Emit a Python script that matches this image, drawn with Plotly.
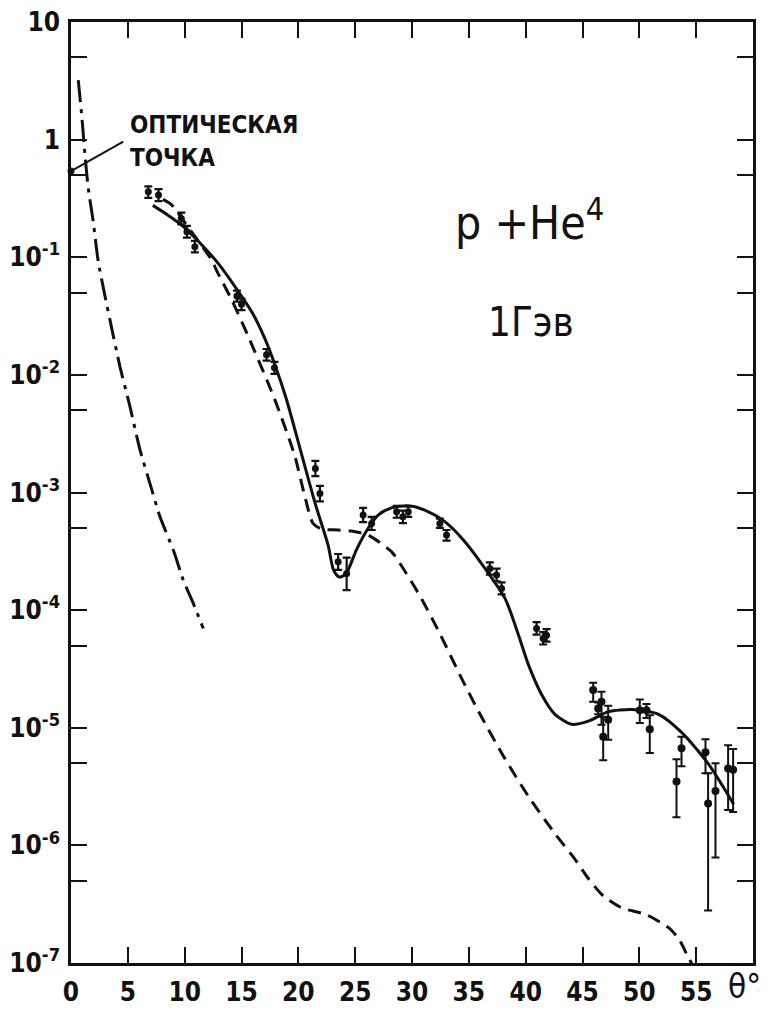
import plotly.graph_objects as go

# ---------------- data ----------------
# solid curve (theory, full)
solid_theta = [7.2, 8.5, 9.84, 11.16, 12.93, 14.98, 16.0, 17.0, 18.0, 18.94, 20.26, 21.49,
               22.62, 23.1, 23.6, 24.2, 25.1, 26.1, 27.02, 28.19, 29.66, 31.13, 32.89, 34.65,
               36.41, 38.18, 39.36, 40.24, 41.41, 42.58, 44.05, 45.52, 47.29, 49.34, 51.69,
               53.74, 56.1, 58.3]
solid_sigma = [0.276, 0.229, 0.184, 0.138, 0.0891, 0.047, 0.0331, 0.0209, 0.01175, 6.27e-3,
               2.16e-3, 8.02e-4, 3.57e-4, 2.19e-4, 1.91e-4, 2.04e-4, 3.24e-4, 4.90e-4,
               6.43e-4, 7.41e-4, 7.71e-4, 7.08e-4, 5.65e-4, 3.82e-4, 2.27e-4, 1.26e-4,
               6.18e-5, 3.44e-5, 1.91e-5, 1.30e-5, 1.07e-5, 1.14e-5, 1.37e-5, 1.43e-5,
               1.30e-5, 9.08e-6, 4.89e-6, 2.24e-6]

# dashed curve
dashed_theta = [8.08, 8.81, 10.5, 12.33, 12.9, 14.1, 15.57, 17.9, 19.67, 20.55, 21.29, 22.03,
                23.5, 24.67, 26.14, 28.19, 28.94, 30.7, 32.45, 34.36, 36.07, 38.1, 40.22,
                42.57, 44.2, 45.5, 46.82, 48.43, 50.63, 52.7, 53.56, 54.3, 55.0]
dashed_sigma = [0.31, 0.281, 0.17, 0.0962, 0.0741, 0.0441, 0.0215, 6.27e-3, 2.07e-3, 9.48e-4,
                5.46e-4, 4.89e-4, 4.8e-4, 4.7e-4, 4.35e-4, 3.14e-4, 2.49e-4, 1.32e-4, 6.31e-5,
                2.63e-5, 1.26e-5, 5.62e-6, 2.63e-6, 1.26e-6, 7.94e-7, 5.25e-7, 3.72e-7,
                2.95e-7, 2.57e-7, 1.95e-7, 1.55e-7, 1.12e-7, 8.5e-8]

# dash-dot curve
dashdot_theta = [0.64, 0.94, 1.23, 1.52, 1.96, 2.40, 3.43, 4.31, 5.19, 6.07, 6.95, 7.83, 9.0,
                 9.88, 10.76, 11.64]
dashdot_sigma = [3.21, 1.62, 0.74, 0.385, 0.2, 0.0916, 0.0292, 0.0117, 5.36e-3, 2.3e-3,
                 1.19e-3, 6.21e-4, 3.24e-4, 1.8e-4, 1.14e-4, 6.98e-5]

# experimental points, small-angle group
exp1_theta = [6.8, 7.7, 9.7, 10.2, 10.9, 14.6, 15.0, 17.2, 17.9, 21.5, 21.9, 23.5, 24.25,
              25.7, 26.45, 28.65, 29.2, 29.67, 32.45, 33.04, 36.85, 37.44, 37.88, 40.96,
              41.54, 41.84]
exp1_sigma = [0.36, 0.338, 0.214, 0.165, 0.123, 0.0468, 0.0398, 0.0148, 0.0115, 1.60e-3,
              9.8e-4, 2.58e-4, 2.05e-4, 6.43e-4, 5.46e-4, 6.86e-4, 6.21e-4, 6.86e-4, 5.46e-4,
              4.35e-4, 2.26e-4, 1.99e-4, 1.53e-4, 6.98e-5, 5.74e-5, 6.12e-5]
exp1_hi = [0.40, 0.38, 0.24, 0.185, 0.138, 0.052, 0.0445, 0.0166, 0.0129, 1.86e-3, 1.14e-3,
           3.0e-4, 2.8e-4, 7.4e-4, 6.2e-4, 7.7e-4, 7.0e-4, 7.6e-4, 6.0e-4, 4.8e-4, 2.55e-4,
           2.25e-4, 1.72e-4, 7.9e-5, 6.5e-5, 6.9e-5]
exp1_lo = [0.32, 0.30, 0.19, 0.147, 0.11, 0.042, 0.0355, 0.0132, 0.0102, 1.38e-3, 8.4e-4,
           2.2e-4, 1.48e-4, 5.6e-4, 4.8e-4, 6.1e-4, 5.5e-4, 6.2e-4, 5.0e-4, 3.9e-4, 2.0e-4,
           1.76e-4, 1.36e-4, 6.2e-5, 5.1e-5, 5.4e-5]

# experimental points, large-angle group
exp2_theta = [45.94, 46.67, 46.38, 47.26, 46.82, 50.04, 50.63, 50.92, 53.71, 53.27, 55.82,
              56.05, 56.7, 57.81, 58.25]
exp2_sigma = [2.09e-5, 1.66e-5, 1.46e-5, 1.17e-5, 8.4e-6, 1.41e-5, 1.41e-5, 9.7e-6, 6.7e-6,
              3.5e-6, 6.2e-6, 2.27e-6, 2.9e-6, 4.5e-6, 4.4e-6]
exp2_hi = [2.41e-5, 2.02e-5, 1.64e-5, 1.54e-5, 1.24e-5, 1.74e-5, 1.59e-5, 1.28e-5, 8.4e-6,
           5.4e-6, 8.0e-6, 4.1e-6, 5.0e-6, 7.1e-6, 6.6e-6]
exp2_lo = [1.66e-5, 1.06e-5, 1.30e-5, 7.9e-6, 5.3e-6, 1.10e-5, 1.21e-5, 6.1e-6, 4.7e-6,
           1.73e-6, 4.1e-6, 2.8e-7, 7.9e-7, 2.0e-6, 1.92e-6]

# optical point and its leader line
optical_theta = [0.0]
optical_sigma = [0.54]
leader_theta = [0.0, 4.6]
leader_sigma = [0.54, 0.96]

x_tickvals = [0, 5, 10, 15, 20, 25, 30, 35, 40, 45, 50, 55]
x_ticktext = ["0", "5", "10", "15", "20", "25", "30", "35", "40", "45", "50", "55"]
y_tickvals = [10, 1, 1e-1, 1e-2, 1e-3, 1e-4, 1e-5, 1e-6, 1e-7]
y_ticktext = ["10", "1", "10<sup>-1</sup>", "10<sup>-2</sup>", "10<sup>-3</sup>",
              "10<sup>-4</sup>", "10<sup>-5</sup>", "10<sup>-6</sup>", "10<sup>-7</sup>"]
y_minorvals = [5, 0.5, 0.05, 5e-3, 5e-4, 5e-5, 5e-6, 5e-7]

FONT = "DejaVu Sans Condensed, DejaVu Sans, sans-serif"
INK = "#111111"


def errs(vals, hi, lo):
    up = [h - v for h, v in zip(hi, vals)]
    dn = [v - l for v, l in zip(vals, lo)]
    return up, dn


fig = go.Figure()

fig.add_trace(go.Scatter(x=solid_theta, y=solid_sigma, mode="lines",
                         line=dict(color=INK, width=3, shape="spline", smoothing=0.7),
                         showlegend=False, hoverinfo="skip"))
fig.add_trace(go.Scatter(x=dashed_theta, y=dashed_sigma, mode="lines",
                         line=dict(color=INK, width=3, dash="13px,8px", shape="spline",
                                   smoothing=0.7),
                         showlegend=False, hoverinfo="skip"))
fig.add_trace(go.Scatter(x=dashdot_theta, y=dashdot_sigma, mode="lines",
                         line=dict(color=INK, width=3, dash="22px,7px,4px,7px",
                                   shape="spline", smoothing=0.6),
                         showlegend=False, hoverinfo="skip"))

up1, dn1 = errs(exp1_sigma, exp1_hi, exp1_lo)
fig.add_trace(go.Scatter(x=exp1_theta, y=exp1_sigma, mode="markers",
                         marker=dict(color=INK, size=7, symbol="circle"),
                         error_y=dict(type="data", symmetric=False, array=up1, arrayminus=dn1,
                                      color=INK, thickness=2.2, width=4),
                         showlegend=False))
up2, dn2 = errs(exp2_sigma, exp2_hi, exp2_lo)
fig.add_trace(go.Scatter(x=exp2_theta, y=exp2_sigma, mode="markers",
                         marker=dict(color=INK, size=8, symbol="circle"),
                         error_y=dict(type="data", symmetric=False, array=up2, arrayminus=dn2,
                                      color=INK, thickness=2, width=4),
                         showlegend=False))

fig.add_trace(go.Scatter(x=leader_theta, y=leader_sigma, mode="lines",
                         line=dict(color=INK, width=2), cliponaxis=False,
                         showlegend=False, hoverinfo="skip"))
fig.add_trace(go.Scatter(x=optical_theta, y=optical_sigma, mode="markers",
                         marker=dict(color=INK, size=7), cliponaxis=False,
                         showlegend=False))

axis_common = dict(showline=True, linewidth=2.5, linecolor=INK, mirror="ticks",
                   ticks="inside", ticklen=16, tickwidth=2, tickcolor=INK,
                   showgrid=False, zeroline=False, automargin=False,
                   tickfont=dict(family=FONT, size=26, color=INK, weight="bold"))

fig.update_xaxes(range=[0, 60], tickmode="array", tickvals=x_tickvals, ticktext=x_ticktext,
                 ticklabelstandoff=4, **axis_common)
fig.update_yaxes(type="log", range=[-7, 1], tickmode="array", tickvals=y_tickvals,
                 ticktext=y_ticktext, ticklabelstandoff=3,
                 minor=dict(tickmode="array", tickvals=y_minorvals, ticks="inside",
                            ticklen=16, tickwidth=2, tickcolor=INK, showgrid=False),
                 **axis_common)

ann_font = dict(family=FONT, color=INK)
fig.add_annotation(text="<b>ОПТИЧЕСКАЯ</b>", xref="paper", yref="paper",
                   x=0.083, y=0.891, xanchor="left", yanchor="middle", showarrow=False,
                   font=dict(size=24, **ann_font))
fig.add_annotation(text="<b>ТОЧКА</b>", xref="paper", yref="paper",
                   x=0.083, y=0.856, xanchor="left", yanchor="middle", showarrow=False,
                   font=dict(size=24, **ann_font))
fig.add_annotation(text="p +He<sup>4</sup>", xref="paper", yref="paper",
                   x=0.672, y=0.790, xanchor="center", yanchor="middle", showarrow=False,
                   font=dict(size=46, **ann_font))
fig.add_annotation(text="1Гэв", xref="paper", yref="paper",
                   x=0.675, y=0.681, xanchor="center", yanchor="middle", showarrow=False,
                   font=dict(size=40, **ann_font))
fig.add_annotation(text="θ°", xref="paper", yref="paper", x=0.988, y=-0.025,
                   xanchor="center", yanchor="middle", showarrow=False,
                   font=dict(size=33, **ann_font))

fig.update_layout(width=774, height=1011,
                  margin=dict(l=71, r=21, t=22, b=48),
                  paper_bgcolor="white", plot_bgcolor="white",
                  showlegend=False)

fig.write_html("out.html")
